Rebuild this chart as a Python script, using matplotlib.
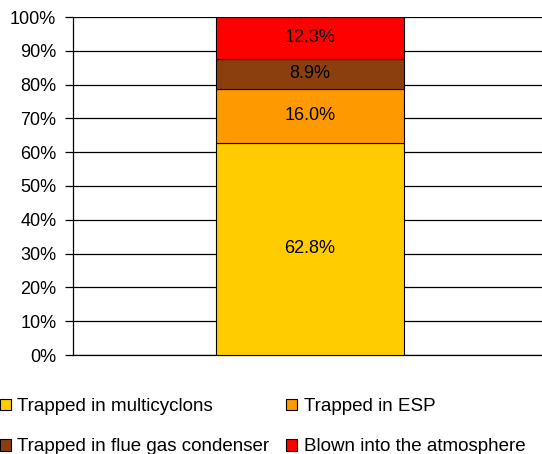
import matplotlib.pyplot as plt
from matplotlib.patches import Patch

plt.rcParams["font.family"] = ["Liberation Sans", "DejaVu Sans"]

categories = [
    "Trapped in multicyclons",
    "Trapped in ESP",
    "Trapped in flue gas condenser",
    "Blown into the atmosphere",
]
shares = [62.8, 16.0, 8.9, 12.3]
colors = ["#FFCC00", "#FF9900", "#8B3F0F", "#FF0000"]
yticks = list(range(0, 101, 10))

fig = plt.figure(figsize=(5.42, 4.54), dpi=100)
# plot area runs slightly past the right edge, like the original
ax = fig.add_axes([73 / 542, 1 - 355 / 454, 474 / 542, 338 / 454])

bottom = 0.0
for name, val, col in zip(categories, shares, colors):
    ax.bar(0, val, width=0.397, bottom=bottom, color=col,
           edgecolor="black", linewidth=0.8, zorder=3)
    ax.text(0, bottom + val / 2, f"{val:.1f}%", ha="center", va="center",
            fontsize=13, zorder=4)
    bottom += val

ax.set_xlim(-0.5, 0.5)
ax.set_ylim(0, 100)
ax.set_yticks(yticks)
ax.set_yticklabels([f"{t}%" for t in yticks], fontsize=13)
ax.set_xticks([])
ax.grid(axis="y", color="black", linewidth=0.9, zorder=0)
ax.tick_params(axis="y", direction="out", length=6, width=0.9, pad=6)
for side in ["top", "right"]:
    ax.spines[side].set_visible(False)
ax.spines["left"].set_linewidth(0.9)
ax.spines["bottom"].set_linewidth(0.9)

handles = [Patch(facecolor=c, edgecolor="black", linewidth=0.8) for c in colors]
order = [0, 2, 1, 3]
fig.legend([handles[i] for i in order], [categories[i] for i in order],
           loc="upper left", bbox_to_anchor=(0.0, 1 - 398 / 454), ncol=2,
           frameon=False, fontsize=13.5, handlelength=0.58, handleheight=0.58,
           handletextpad=0.35, columnspacing=0.9, labelspacing=1.25,
           borderpad=0, borderaxespad=0)

fig.savefig("out.png", dpi=100)
